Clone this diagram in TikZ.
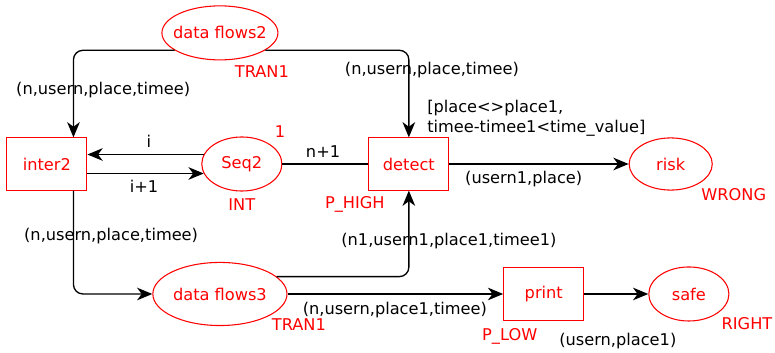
\documentclass[tikz,border=0pt]{standalone}
\usepackage{fontspec}
\setmainfont{DejaVu Sans}
\usepackage{tikz}
\usetikzlibrary{shapes.geometric, arrows.meta, positioning, calc}
\newcommand{\pname}[1]{\makebox[0pt]{#1}}

\begin{document}
\begin{tikzpicture}[
		font=\fontsize{12.2}{15}\selectfont,
		place/.style={ellipse, draw=red, text=red, line width=0.8pt, fill=white, inner sep=0pt},
		trans/.style={rectangle, draw=red, text=red, line width=0.8pt, fill=white, inner sep=0pt, minimum width=2.12cm, minimum height=1.38cm},
		arc/.style={line width=1pt, rounded corners=0.25cm, -{Stealth[length=11.5pt,width=9.5pt,inset=3.5pt]}},
		tag/.style={text=red, inner sep=0pt},
		inscr/.style={inner sep=0pt}
	]
		\useasboundingbox (0,0) rectangle (20.51,-9.34);

		\node[place, minimum width=3.07cm, minimum height=1.43cm] (df2) at (5.82,-0.87) {\pname{data flows2}};
		\node[trans] (inter2) at (1.24,-4.34) {inter2};
		\node[place, minimum width=2.12cm, minimum height=1.43cm] (seq2) at (6.40,-4.34) {\pname{Seq2}};
		\node[trans] (detect) at (10.82,-4.34) {detect};
		\node[place, minimum width=2.20cm, minimum height=1.38cm] (risk) at (17.75,-4.34) {\pname{risk}};
		\node[place, minimum width=3.55cm, minimum height=1.67cm] (df3) at (5.82,-7.78) {\pname{data flows3}};
		\node[trans, minimum height=1.40cm] (print) at (14.39,-7.78) {print};
		\node[place, minimum width=2.12cm, minimum height=1.43cm] (safe) at (18.23,-7.78) {\pname{safe}};

		\draw[arc] (df2.201) -| (inter2.45);
		\draw[arc] (df2.339) -| (detect);
		\draw[arc] (seq2.166) -- (seq2.166 -| inter2.east);
		\draw[arc] (inter2.east |- seq2.194) -- (seq2.194);
		\draw[line width=1pt] (seq2) -- (detect);
		\draw[arc] (detect) -- (risk);
		\draw[arc] (inter2.-45) |- (df3);
		\draw[arc] (df3.17) -| (detect);
		\draw[arc] (df3) -- (print);
		\draw[arc] (print) -- (safe);

		% Types and priorities
		\node[tag] (t1) at (6.93,-1.90) {TRAN1};
		\node[tag] (t2) at (7.41,-3.49) {1};
		\node[tag] (t3) at (6.40,-5.42) {INT};
		\node[tag] (t4) at (9.39,-5.42) {P\_HIGH};
		\node[tag] (t5) at (19.42,-5.16) {WRONG};
		\node[tag] (t6) at (7.91,-8.60) {TRAN1};
		\node[tag] (t7) at (13.49,-8.89) {P\_LOW};
		\node[tag] (t8) at (19.77,-8.57) {RIGHT};

		% Arc inscriptions
		\node[inscr] (a1) at (2.73,-2.38) {(n,usern,place,timee)};
		\node[inscr] (a2) at (11.43,-1.85) {(n,usern,place,timee)};
		\node[inscr, anchor=west, align=left] (g1) at (11.30,-3.12) {[place<>place1,\\timee-timee1<time\_value]};
		\node[inscr] (a3) at (3.94,-3.73) {i};
		\node[inscr] (a4) at (3.81,-4.92) {i+1};
		\node[inscr] (a5) at (8.55,-4.00) {n+1};
		\node[inscr] (a6) at (13.86,-4.74) {(usern1,place)};
		\node[inscr] (a7) at (2.94,-6.24) {(n,usern,place,timee)};
		\node[inscr] (a8) at (11.88,-6.38) {(n1,usern1,place1,timee1)};
		\node[inscr] (a9) at (10.45,-8.20) {(n,usern,place1,timee)};
		\node[inscr] (a10) at (16.35,-9.02) {(usern,place1)};
	\end{tikzpicture}
\end{document}
